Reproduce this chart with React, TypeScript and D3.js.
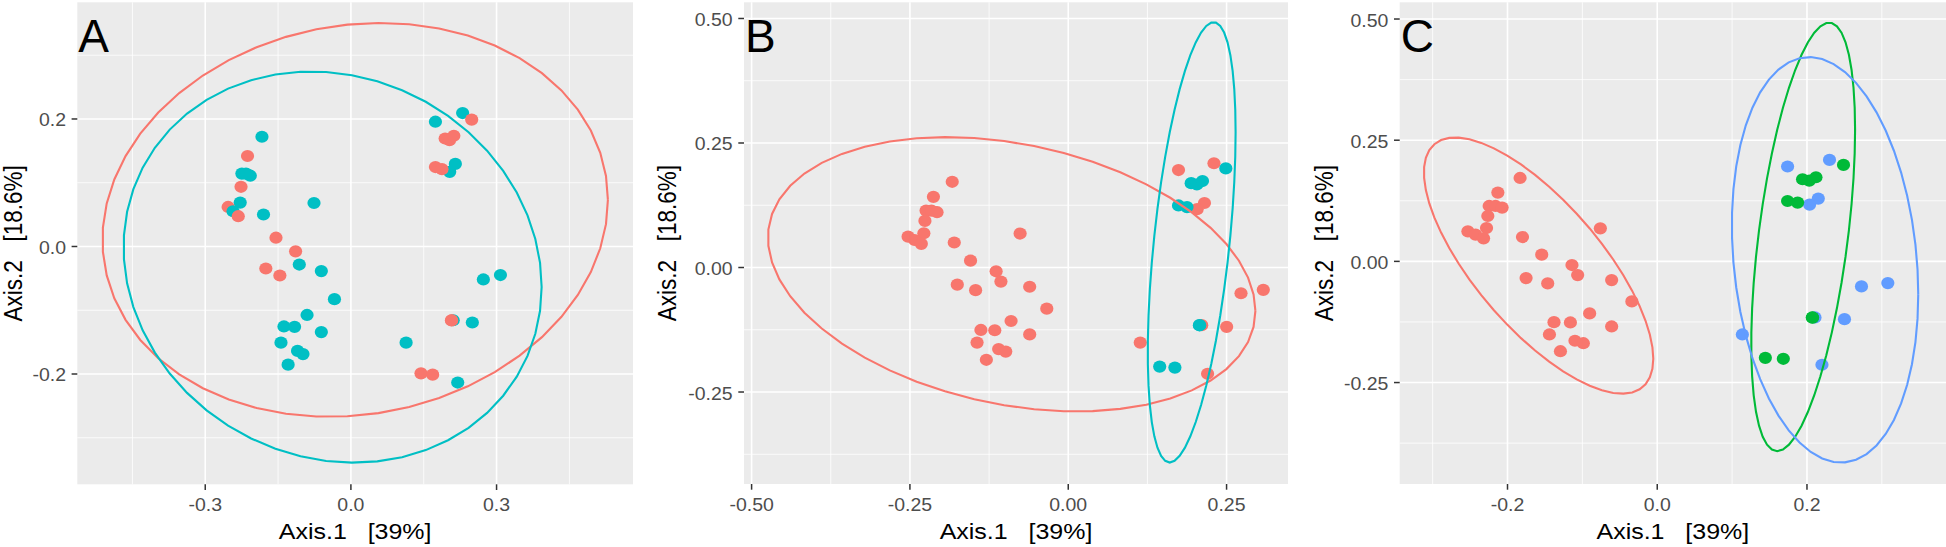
import React from "react";
import * as d3 from "d3";

// ---------------- data ----------------
// Ordination coordinates of the 47 samples (Axis.1, Axis.2)
const axis1 = [
  -0.1832, -0.2129, -0.2245, -0.216, -0.2072, -0.2263, -0.228, -0.2529, -0.2427, -0.232,
  -0.18, -0.076, -0.1543, -0.1139, -0.1063, -0.1752, -0.1463, -0.0609, -0.0339, -0.0903,
  -0.1379, -0.116, -0.0609, -0.144, -0.1099, -0.0987, -0.1293,
  0.1741, 0.2301, 0.2151, 0.2035, 0.2728, 0.308, 0.2107, 0.2501, 0.1137, 0.22,
  0.2488, 0.1941, 0.2031, 0.212, 0.1741, 0.1875, 0.2071, 0.1444, 0.1684, 0.2075,
];
const axis2 = [
  0.1721, 0.1419, 0.1143, 0.1143, 0.111, 0.0936, 0.0688, 0.062, 0.0552, 0.0475,
  0.0502, 0.0682, 0.0138, -0.0076, -0.0283, -0.0345, -0.0455, -0.0386, -0.0826, -0.1074,
  -0.1254, -0.126, -0.1343, -0.1508, -0.1638, -0.1688, -0.1853,
  0.1957, 0.2093, 0.1295, 0.1171, -0.0517, -0.0448, -0.1157, -0.1192, -0.1508, -0.2134,
  0.199, 0.1694, 0.1667, 0.1736, 0.1246, 0.1213, -0.1157, -0.199, -0.201, -0.116,
];
// grouping used in each panel
const groupA = [
  "a2", "a1", "a2", "a2", "a2", "a1", "a2", "a1", "a2", "a1",
  "a2", "a2", "a1", "a1", "a2", "a1", "a1", "a2", "a2", "a2",
  "a2", "a2", "a2", "a2", "a2", "a2", "a2",
  "a2", "a2", "a2", "a2", "a2", "a2", "a2", "a2", "a2", "a2",
  "a1", "a1", "a1", "a1", "a1", "a1", "a1", "a1", "a1", "a1",
];
const groupB = [
  "b1", "b1", "b1", "b1", "b1", "b1", "b1", "b1", "b1", "b1",
  "b1", "b1", "b1", "b1", "b1", "b1", "b1", "b1", "b1", "b1",
  "b1", "b1", "b1", "b1", "b1", "b1", "b1",
  "b1", "b1", "b1", "b1", "b1", "b1", "b1", "b1", "b1", "b1",
  "b2", "b2", "b2", "b2", "b2", "b2", "b2", "b2", "b2", "b2",
];
const groupC = [
  "c1", "c1", "c1", "c1", "c1", "c1", "c1", "c1", "c1", "c1",
  "c1", "c1", "c1", "c1", "c1", "c1", "c1", "c1", "c1", "c1",
  "c1", "c1", "c1", "c1", "c1", "c1", "c1",
  "c3", "c3", "c3", "c3", "c3", "c3", "c3", "c3", "c3", "c3",
  "c2", "c2", "c2", "c2", "c2", "c2", "c2", "c2", "c2", "c2",
];
const levelsA = ["a1", "a2"];
const levelsB = ["b1", "b2"];
const levelsC = ["c1", "c2", "c3"];

const panelLetters = ["A", "B", "C"];
const xTitle = "Axis.1   [39%]";
const yTitle = "Axis.2   [18.6%]";

const xDomainA = [-0.5635, 0.581];
const xDomainB = [-0.512, 0.347];
const xDomainC = [-0.344, 0.3857];
const yDomainA = [-0.373, 0.383];
const yDomainB = [-0.4347, 0.5325];
const yDomainC = [-0.4593, 0.5345];

const xTicksA = [-0.3, 0, 0.3];
const xTicksB = [-0.5, -0.25, 0, 0.25];
const xTicksC = [-0.2, 0, 0.2];
const yTicksA = [-0.2, 0, 0.2];
const yTicksB = [-0.25, 0, 0.25, 0.5];
const yTicksC = [-0.25, 0, 0.25, 0.5];
const xTickLabelsA = ["-0.3", "0.0", "0.3"];
const xTickLabelsB = ["-0.50", "-0.25", "0.00", "0.25"];
const xTickLabelsC = ["-0.2", "0.0", "0.2"];
const yTickLabelsA = ["-0.2", "0.0", "0.2"];
const yTickLabelsB = ["-0.25", "0.00", "0.25", "0.50"];
const yTickLabelsC = ["-0.25", "0.00", "0.25", "0.50"];

// ---------------- styling / layout ----------------
const W = 1946;
const H = 547;
const FONT = "'Liberation Sans', Arial, Helvetica, sans-serif";
const hue2 = ["#F8766D", "#00BFC4"];
const hue3 = ["#F8766D", "#00BA38", "#619CFF"];
const plotTop = 2.3;
const plotBottoms = [484.3, 484, 484];
const plotLefts = [77.3, 744, 1399.7];
const plotRights = [633, 1288, 1946];
const yTitleBaselines = [22, 676, 1333];
const TICK_FS = 19.5;
const TITLE_FS = 25;
const SQ_TICK = 0.93;
const SQ_TITLE = 0.9;

// ---------------- stat_ellipse (type = "t", level = 0.95) ----------------
function covTrob(xs: number[], ys: number[]) {
  const n = xs.length;
  const p = 2;
  const nu = 5;
  const maxit = 25;
  const tol = 0.01;
  let w = xs.map(() => 1);
  let lx = d3.mean(xs) as number;
  let ly = d3.mean(ys) as number;
  let X: number[][] = [];
  for (let iter = 0; iter < maxit; iter++) {
    const w0 = w.slice();
    X = xs.map((x, i) => [x - lx, ys[i] - ly]);
    const sw = d3.sum(w);
    let a = 0, b = 0, c = 0;
    X.forEach(([u, v], i) => {
      a += (w[i] / sw) * u * u;
      b += (w[i] / sw) * u * v;
      c += (w[i] / sw) * v * v;
    });
    const det = a * c - b * b;
    const Q = X.map(([u, v]) => (c * u * u - 2 * b * u * v + a * v * v) / det);
    w = Q.map((q) => (nu + p) / (nu + q));
    const sw2 = d3.sum(w);
    lx = d3.sum(xs.map((x, i) => w[i] * x)) / sw2;
    ly = d3.sum(ys.map((y, i) => w[i] * y)) / sw2;
    if (w.every((wi, i) => Math.abs(wi - w0[i]) < tol)) break;
  }
  let s11 = 0, s12 = 0, s22 = 0;
  X.forEach(([u, v], i) => {
    s11 += w[i] * u * u;
    s12 += w[i] * u * v;
    s22 += w[i] * v * v;
  });
  return { s11: s11 / n, s12: s12 / n, s22: s22 / n, cx: lx, cy: ly };
}

function ellipsePoints(xs: number[], ys: number[], level = 0.95, segments = 51) {
  const n = xs.length;
  const dfd = n - 1;
  const qf = (dfd / 2) * (Math.pow(1 - level, -2 / dfd) - 1); // qf(level, 2, dfd)
  const radius = Math.sqrt(2 * qf);
  const { s11, s12, s22, cx, cy } = covTrob(xs, ys);
  const r11 = Math.sqrt(s11);
  const r12 = s12 / r11;
  const r22 = Math.sqrt(s22 - r12 * r12);
  const pts: [number, number][] = [];
  for (let k = 0; k <= segments; k++) {
    const t = (k * 2 * Math.PI) / segments;
    const c = Math.cos(t);
    const s = Math.sin(t);
    pts.push([cx + radius * c * r11, cy + radius * (c * r12 + s * r22)]);
  }
  return pts;
}

function minorTicks(major: number[], dom: number[]) {
  const step = major[1] - major[0];
  const out: number[] = [];
  const all = [major[0] - step, ...major, major[major.length - 1] + step];
  for (let i = 0; i < all.length - 1; i++) {
    const m = (all[i] + all[i + 1]) / 2;
    if (m > dom[0] && m < dom[1]) out.push(m);
  }
  return out;
}

type PanelSpec = {
  letter: string;
  xDom: number[];
  yDom: number[];
  xTicks: number[];
  yTicks: number[];
  xLabels: string[];
  yLabels: string[];
  groups: string[];
  levels: string[];
  colors: string[];
};

const panelSpecs: PanelSpec[] = [
  { letter: panelLetters[0], xDom: xDomainA, yDom: yDomainA, xTicks: xTicksA, yTicks: yTicksA, xLabels: xTickLabelsA, yLabels: yTickLabelsA, groups: groupA, levels: levelsA, colors: hue2 },
  { letter: panelLetters[1], xDom: xDomainB, yDom: yDomainB, xTicks: xTicksB, yTicks: yTicksB, xLabels: xTickLabelsB, yLabels: yTickLabelsB, groups: groupB, levels: levelsB, colors: hue2 },
  { letter: panelLetters[2], xDom: xDomainC, yDom: yDomainC, xTicks: xTicksC, yTicks: yTicksC, xLabels: xTickLabelsC, yLabels: yTickLabelsC, groups: groupC, levels: levelsC, colors: hue3 },
];

const pre = { whiteSpace: "pre" as const };

function Panel({ spec, idx }: { spec: PanelSpec; idx: number }) {
  const left = plotLefts[idx];
  const right = plotRights[idx];
  const top = plotTop;
  const bottom = plotBottoms[idx];
  const x = d3.scaleLinear().domain(spec.xDom).range([left, right]);
  const y = d3.scaleLinear().domain(spec.yDom).range([bottom, top]);
  const color = d3.scaleOrdinal<string, string>().domain(spec.levels).range(spec.colors);
  const line = d3
    .line<[number, number]>()
    .x((d) => x(d[0]))
    .y((d) => y(d[1]));
  const xMinor = minorTicks(spec.xTicks, spec.xDom);
  const yMinor = minorTicks(spec.yTicks, spec.yDom);
  const clipId = `clip-${idx}`;
  const cyMid = (top + bottom) / 2;
  const cxMid = (left + right) / 2;

  return (
    <g>
      <defs>
        <clipPath id={clipId}>
          <rect x={left} y={top} width={right - left} height={bottom - top} />
        </clipPath>
      </defs>
      <rect x={left} y={top} width={right - left} height={bottom - top} fill="#EBEBEB" />
      {xMinor.map((t, i) => (
        <line key={`xm${i}`} x1={x(t)} x2={x(t)} y1={top} y2={bottom} stroke="#fff" strokeWidth={0.8} />
      ))}
      {yMinor.map((t, i) => (
        <line key={`ym${i}`} x1={left} x2={right} y1={y(t)} y2={y(t)} stroke="#fff" strokeWidth={0.8} />
      ))}
      {spec.xTicks.map((t, i) => (
        <line key={`xM${i}`} x1={x(t)} x2={x(t)} y1={top} y2={bottom} stroke="#fff" strokeWidth={1.6} />
      ))}
      {spec.yTicks.map((t, i) => (
        <line key={`yM${i}`} x1={left} x2={right} y1={y(t)} y2={y(t)} stroke="#fff" strokeWidth={1.6} />
      ))}
      <g clipPath={`url(#${clipId})`}>
        {axis1.map((v, i) => (
          <ellipse key={`p${i}`} cx={x(v)} cy={y(axis2[i])} rx={6.6} ry={6.1} fill={color(spec.groups[i])} />
        ))}
        {spec.levels.map((lv) => {
          const idxs = spec.groups.map((g, i) => (g === lv ? i : -1)).filter((i) => i >= 0);
          if (idxs.length < 3) return null;
          const pts = ellipsePoints(
            idxs.map((i) => axis1[i]),
            idxs.map((i) => axis2[i])
          );
          return <path key={`e${lv}`} d={line(pts) || ""} fill="none" stroke={color(lv)} strokeWidth={2.1} />;
        })}
      </g>
      {spec.xTicks.map((t, i) => (
        <line key={`xt${i}`} x1={x(t)} x2={x(t)} y1={bottom} y2={bottom + 5.7} stroke="#333333" strokeWidth={1.5} />
      ))}
      {spec.yTicks.map((t, i) => (
        <line key={`yt${i}`} x1={left - 5.7} x2={left} y1={y(t)} y2={y(t)} stroke="#333333" strokeWidth={1.5} />
      ))}
      {spec.xTicks.map((t, i) => (
        <text
          key={`xl${i}`}
          transform={`translate(${x(t)},${bottom + 27}) scale(1,${SQ_TICK})`}
          textAnchor="middle"
          fontSize={TICK_FS}
          fill="#4D4D4D"
        >
          {spec.xLabels[i]}
        </text>
      ))}
      {spec.yTicks.map((t, i) => (
        <text
          key={`yl${i}`}
          transform={`translate(${left - 11.3},${y(t) + 0.358 * TICK_FS * SQ_TICK + 1}) scale(1,${SQ_TICK})`}
          textAnchor="end"
          fontSize={TICK_FS}
          fill="#4D4D4D"
        >
          {spec.yLabels[i]}
        </text>
      ))}
      <text
        transform={`translate(${cxMid},${bottom + 55}) scale(1,${SQ_TITLE})`}
        textAnchor="middle"
        fontSize={TITLE_FS}
        fill="#000"
        style={pre}
      >
        {xTitle}
      </text>
      <text
        transform={`translate(${yTitleBaselines[idx]},${cyMid}) scale(1,${SQ_TITLE}) rotate(-90)`}
        textAnchor="middle"
        fontSize={TITLE_FS}
        fill="#000"
        style={pre}
      >
        {yTitle}
      </text>
      <text x={left + 1} y={top + 50} fontSize={46} fill="#000">
        {spec.letter}
      </text>
    </g>
  );
}

export default function App() {
  return (
    <svg
      width={W}
      height={H}
      viewBox={`0 0 ${W} ${H}`}
      style={{ position: "absolute", left: 0, top: 0, background: "#fff" }}
      fontFamily={FONT}
    >
      <rect x={0} y={0} width={W} height={H} fill="#fff" />
      {panelSpecs.map((s, i) => (
        <Panel key={s.letter} spec={s} idx={i} />
      ))}
    </svg>
  );
}
